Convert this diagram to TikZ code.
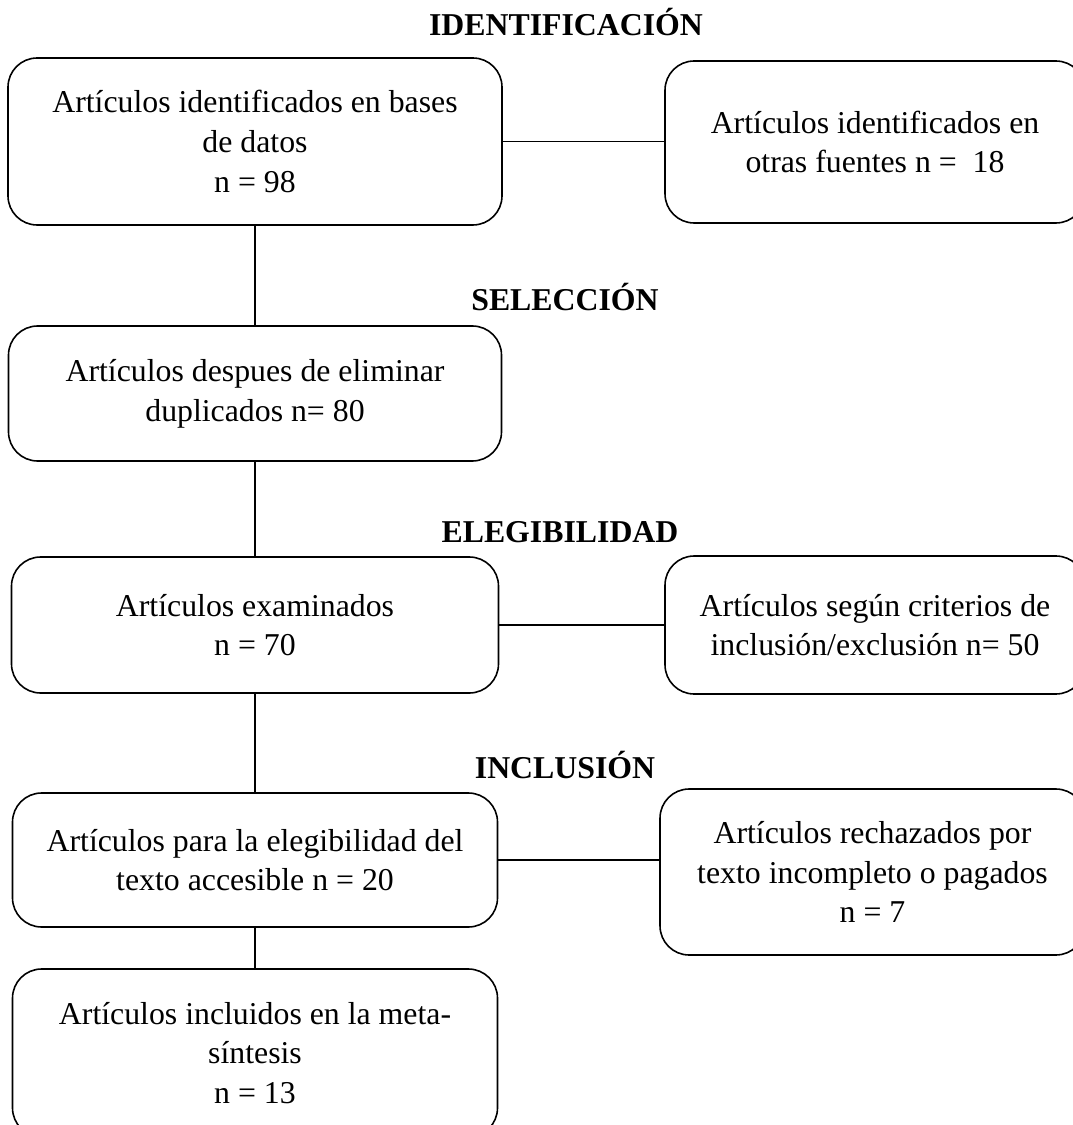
\documentclass[tikz,border=0pt]{standalone}
\usepackage{fontspec}
\setmainfont{Liberation Serif}
\usepackage{tikz}

\tikzset{
  caja/.style={draw, rounded corners=11pt, align=center, inner sep=0pt,
    line width=0.6pt, font=\fontsize{12}{15}\selectfont},
  fase/.style={inner sep=0pt, font=\fontsize{12}{14}\selectfont\bfseries},
}

\begin{document}
\begin{tikzpicture}[x=0.3774pt, y=-0.3774pt]
\def\ipx{0.3774pt}
\useasboundingbox (0,0) rectangle (1072,1125);

%% fases %%%%%%%%%%%%%%%%%%%%%%%%%%%%%%%%%%%%%%%%%%%%
\node[fase] (tIdent) at (566,22) {IDENTIFICACIÓN};
\node[fase] (tSelec) at (565,297) {SELECCIÓN};
\node[fase] (tEleg) at (560,532) {ELEGIBILIDAD};
\node[fase] (tIncl) at (565,765) {INCLUSIÓN};

%% columna izquierda %%%%%%%%%%%%%%%%%%%%%%%%%%%%%%%%
\node[caja, minimum width=494*\ipx, minimum height=167*\ipx] (bd) at (255,141.5)
  {Artículos identificados en bases\\de datos\\n = 98};
\node[caja, minimum width=493*\ipx, minimum height=135*\ipx] (dup) at (255,393.5)
  {Artículos despues de eliminar\\duplicados n= 80};
\node[caja, minimum width=487*\ipx, minimum height=136*\ipx] (exam) at (255,625)
  {Artículos examinados\\n = 70};
\node[caja, minimum width=485*\ipx, minimum height=134*\ipx] (eleg) at (255,860)
  {Artículos para la elegibilidad del\\texto accesible n = 20};
\node[caja, minimum width=485*\ipx, minimum height=168*\ipx] (incl) at (255,1053)
  {Artículos incluidos en la meta-\\síntesis\\n = 13};

%% columna derecha (se sale por la derecha) %%%%%%%%%
\node[caja, minimum width=420*\ipx, minimum height=162*\ipx] (otras) at (875,142)
  {Artículos identificados en\\otras fuentes n = \ 18};
\node[caja, minimum width=420*\ipx, minimum height=138*\ipx] (crit) at (875,625)
  {Artículos según criterios de\\inclusión/exclusión n= 50};
\node[caja, minimum width=425*\ipx, minimum height=166*\ipx] (rech) at (872.5,872)
  {Artículos rechazados por\\texto incompleto o pagados\\n = 7};

%% lineas %%%%%%%%%%%%%%%%%%%%%%%%%%%%%%%%%%%%%%%%%%%
\draw[line width=0.6pt] (bd.south) -- (dup.north);
\draw[line width=0.6pt] (dup.south) -- (exam.north);
\draw[line width=0.6pt] (exam.south) -- (eleg.north);
\draw[line width=0.6pt] (eleg.south) -- (incl.north);
\draw[line width=0.6pt] (bd.east) -- (bd.east -| otras.west);
\draw[line width=0.6pt] (exam.east) -- (exam.east -| crit.west);
\draw[line width=0.6pt] (eleg.east) -- (eleg.east -| rech.west);
\end{tikzpicture}
\end{document}
